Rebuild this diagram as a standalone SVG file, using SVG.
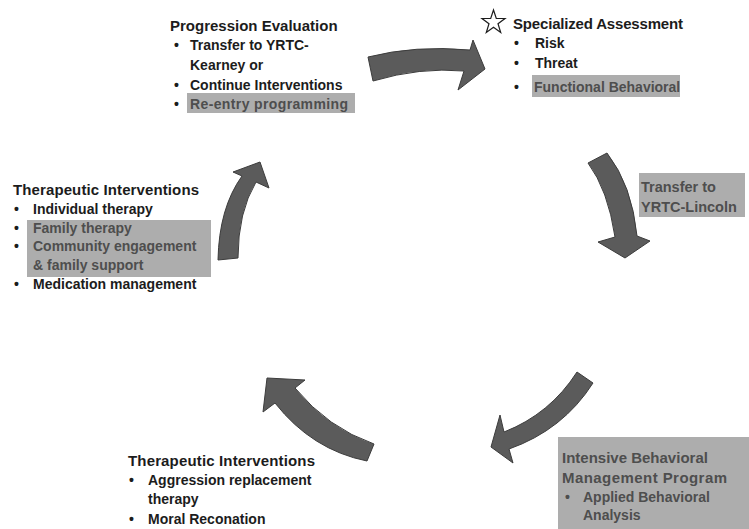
<svg xmlns="http://www.w3.org/2000/svg" width="749" height="529" viewBox="0 0 749 529">
  <style>
    text { font-family: "Liberation Sans", Arial, sans-serif; font-weight: bold; fill: #1c1c1c; }
    .head { font-size: 15px; }
    .item { font-size: 14px; }
    .hl { fill: #4e4e4e; }
    .band { fill: #adadad; }
    .arrow { fill: #5b5b5b; stroke: #3c3c3c; stroke-width: 1; stroke-linejoin: miter; }
  </style>

  <rect width="749" height="529" fill="#ffffff"/>

  <!-- curved cycle arrows -->
  <g id="connectors">
    <path class="arrow" d="M 368 57 Q 415 45 470 50 L 473 40 L 485 69 L 458 90 L 464 71 Q 420 67 373 81 Z"/>
    <path class="arrow" d="M 588 163 L 607 153 Q 632 185 637 236 L 650 241 L 625 258 L 598 242 L 615 237 Q 608 190 588 163 Z"/>
    <path class="arrow" d="M 577 372 Q 550 414 504 432 L 500 415 L 491 447 L 513 463 L 509 449 Q 563 430 593 383 Z"/>
    <path class="arrow" d="M 374 444 Q 328 428 295 388 L 305 380 L 267 378 L 263 412 L 275 403 Q 312 450 367 461 Z"/>
    <path class="arrow" d="M 218 260 Q 219 208 242 176 L 233 172 L 260 162 L 269 188 L 256 182 Q 238 212 238 258 Z"/>
  </g>

  <!-- top: progression evaluation -->
  <g id="progression-evaluation">
    <rect class="band" x="187" y="93" width="168" height="20"/>
    <text class="head" x="170" y="31">Progression Evaluation</text>
    <text class="item" x="174" y="50">•</text>
    <text class="item" x="190" y="50">Transfer to YRTC-</text>
    <text class="item" x="190" y="70">Kearney or</text>
    <text class="item" x="174" y="90">•</text>
    <text class="item" x="190" y="90">Continue Interventions</text>
    <text class="item" x="174" y="109">•</text>
    <text class="item hl" x="190" y="109" textLength="158">Re-entry programming</text>
  </g>

  <!-- top right: specialized assessment -->
  <g id="specialized-assessment">
    <polygon points="493.5,10 496.3,18.5 505,18.5 498,23.7 500.7,32.5 493.5,27.2 486.3,32.5 489,23.7 482,18.5 490.7,18.5" fill="none" stroke="#1c1c1c" stroke-width="1.2"/>
    <rect class="band" x="532" y="75" width="148" height="22"/>
    <text class="head" x="513" y="29" textLength="170">Specialized Assessment</text>
    <text class="item" x="514" y="48">•</text>
    <text class="item" x="535" y="48">Risk</text>
    <text class="item" x="514" y="68">•</text>
    <text class="item" x="535" y="68">Threat</text>
    <text class="item" x="514" y="92">•</text>
    <text class="item hl" x="534" y="92">Functional Behavioral</text>
  </g>

  <!-- right: transfer label -->
  <g id="transfer-lincoln">
    <rect class="band" x="639" y="173" width="106" height="44"/>
    <text class="item hl" x="641" y="192" style="font-size:14.5px">Transfer to</text>
    <text class="item hl" x="641" y="212" style="font-size:14.5px">YRTC-Lincoln</text>
  </g>

  <!-- bottom right: intensive behavioral management -->
  <g id="intensive-behavioral">
    <rect class="band" x="558" y="437" width="191" height="92"/>
    <text class="head hl" x="562" y="463">Intensive Behavioral</text>
    <text class="head hl" x="562" y="483" textLength="165">Management Program</text>
    <text class="item hl" x="565" y="502">•</text>
    <text class="item hl" x="583" y="502">Applied Behavioral</text>
    <text class="item hl" x="583" y="520">Analysis</text>
  </g>

  <!-- bottom left: therapeutic interventions (ART, MRT) -->
  <g id="therapeutic-interventions-2">
    <text class="head" x="128" y="466" textLength="187">Therapeutic Interventions</text>
    <text class="item" x="129" y="485">•</text>
    <text class="item" x="148" y="485">Aggression replacement</text>
    <text class="item" x="148" y="504">therapy</text>
    <text class="item" x="129" y="524">•</text>
    <text class="item" x="148" y="524">Moral Reconation</text>
  </g>

  <!-- left: therapeutic interventions (therapy, family, medication) -->
  <g id="therapeutic-interventions-1">
    <rect class="band" x="27" y="220" width="184" height="57"/>
    <text class="head" x="13" y="195" textLength="186">Therapeutic Interventions</text>
    <text class="item" x="14" y="214">•</text>
    <text class="item" x="33" y="214">Individual therapy</text>
    <text class="item" x="14" y="233">•</text>
    <text class="item hl" x="33" y="233">Family therapy</text>
    <text class="item" x="14" y="251">•</text>
    <text class="item hl" x="33" y="251">Community engagement</text>
    <text class="item hl" x="33" y="270">&amp; family support</text>
    <text class="item" x="14" y="289">•</text>
    <text class="item" x="33" y="289">Medication management</text>
  </g>
</svg>
